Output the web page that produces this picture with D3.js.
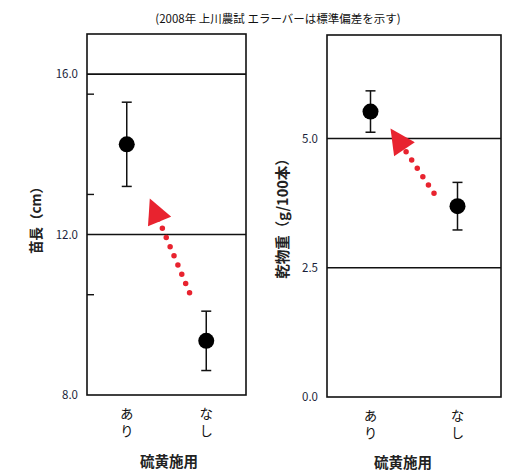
<!DOCTYPE html>
<html>
<head>
<meta charset="utf-8">
<script src="https://cdn.jsdelivr.net/npm/d3@7"></script>
<style>
  html, body { margin: 0; padding: 0; background: #fff; }
  svg text { font-family: "Noto Sans CJK JP", "Noto Sans", sans-serif; }
</style>
</head>
<body>
<svg id="chart" width="523" height="472"></svg>
<script>
// 硫黄施用の有無 (x categories)
const categories = ["あり", "なし"];

// 苗長 (cm): mean and standard deviation
const lengthMean = [14.25, 9.35];
const lengthSD = [1.05, 0.74];
const lengthTicks = [8.0, 12.0, 16.0];
const lengthMinorTicks = [10.5, 13.0, 15.5];

// 乾物重 (g/100本): mean and standard deviation
const weightMean = [5.52, 3.69];
const weightSD = [0.40, 0.46];
const weightTicks = [0.0, 2.5, 5.0];

// red dotted arrows: [x index, value] start -> tip
const lengthArrow = [[0.79, 10.55], [0.29, 12.9]];
const weightArrow = [[0.73, 3.94], [0.23, 5.19]];

const RED = "#e8232f";
const svg = d3.select("#chart");

svg.append("defs").append("marker")
  .attr("id", "head")
  .attr("viewBox", "0 0 10 10")
  .attr("refX", 10).attr("refY", 5)
  .attr("markerWidth", 27).attr("markerHeight", 25)
  .attr("markerUnits", "userSpaceOnUse")
  .attr("orient", "auto")
  .append("path")
  .attr("d", "M0,0 L10,5 L0,10 Z")
  .attr("fill", RED);

svg.append("text")
  .attr("x", 278).attr("y", 23)
  .attr("text-anchor", "middle")
  .attr("font-size", 11.5)
  .attr("fill", "#111")
  .text("(2008年  上川農試  エラーバーは標準偏差を示す)");

function panel(cfg) {
  const g = svg.append("g");
  const x = d3.scaleLinear().domain([-0.5, 1.5]).range([cfg.left, cfg.right]);
  const y = d3.scaleLinear().domain(cfg.domain).range([cfg.bottom, cfg.top]);

  // frame
  g.append("rect")
    .attr("x", cfg.left).attr("y", cfg.top)
    .attr("width", cfg.right - cfg.left).attr("height", cfg.bottom - cfg.top)
    .attr("fill", "none").attr("stroke", "#111").attr("stroke-width", 1.6);

  // horizontal reference lines
  g.selectAll("line.grid")
    .data(cfg.ticks.filter(t => t > cfg.domain[0]))
    .join("line")
    .attr("class", "grid")
    .attr("x1", cfg.left).attr("x2", cfg.right)
    .attr("y1", d => y(d)).attr("y2", d => y(d))
    .attr("stroke", "#111").attr("stroke-width", 1.6);

  // y axis labels
  const yAxis = d3.axisLeft(y)
    .tickValues(cfg.ticks)
    .tickFormat(d3.format(".1f"))
    .tickSize(0).tickPadding(9);
  const ya = g.append("g").attr("transform", `translate(${cfg.left},0)`).call(yAxis);
  ya.select(".domain").remove();
  ya.selectAll("text").attr("font-size", 11.5).attr("fill", "#1b1f3a")
    .attr("font-family", "'Liberation Sans', Arial, sans-serif");

  // minor inward ticks
  if (cfg.minor) {
    g.selectAll("line.minor")
      .data(cfg.minor)
      .join("line")
      .attr("x1", cfg.left).attr("x2", cfg.left + 7)
      .attr("y1", d => y(d)).attr("y2", d => y(d))
      .attr("stroke", "#111").attr("stroke-width", 1.4);
  }

  // x category labels, written vertically
  g.selectAll("text.cat")
    .data(categories)
    .join("text")
    .attr("class", "cat")
    .attr("x", (d, i) => x(i)).attr("y", cfg.bottom + 12)
    .attr("writing-mode", "vertical-rl")
    .attr("text-anchor", "start")
    .attr("letter-spacing", 4)
    .attr("font-size", 13.5).attr("fill", "#111")
    .text(d => d);

  // x axis title
  g.append("text")
    .attr("x", cfg.xTitleX).attr("y", cfg.xTitleY)
    .attr("text-anchor", "middle")
    .attr("font-size", 14.5).attr("font-weight", "bold").attr("fill", "#222")
    .text("硫黄施用");

  // y axis title
  g.append("text")
    .attr("transform", `translate(${cfg.titleX},${cfg.titleY}) rotate(-90)`)
    .attr("text-anchor", "middle")
    .attr("dominant-baseline", "central")
    .attr("font-size", cfg.titleSize).attr("font-weight", "bold").attr("fill", "#222")
    .text(cfg.title);

  // error bars
  const eb = g.selectAll("g.eb")
    .data(cfg.mean.map((m, i) => ({ i, m, s: cfg.sd[i] })))
    .join("g");
  eb.append("line")
    .attr("x1", d => x(d.i)).attr("x2", d => x(d.i))
    .attr("y1", d => y(d.m + d.s)).attr("y2", d => y(d.m - d.s))
    .attr("stroke", "#111").attr("stroke-width", 1.5);
  [1, -1].forEach(sgn => {
    eb.append("line")
      .attr("x1", d => x(d.i) - 5).attr("x2", d => x(d.i) + 5)
      .attr("y1", d => y(d.m + sgn * d.s)).attr("y2", d => y(d.m + sgn * d.s))
      .attr("stroke", "#111").attr("stroke-width", 1.5);
  });
  eb.append("circle")
    .attr("cx", d => x(d.i)).attr("cy", d => y(d.m))
    .attr("r", 8).attr("fill", "#000");

  // dotted arrow: dots stop short of the tip, head carried by a bare line
  const p0 = [x(cfg.arrow[0][0]), y(cfg.arrow[0][1])];
  const p1 = [x(cfg.arrow[1][0]), y(cfg.arrow[1][1])];
  const len = Math.hypot(p1[0] - p0[0], p1[1] - p0[1]);
  const stop = d3.interpolateArray(p0, p1)(Math.max(0, (len - 22) / len));
  g.append("line")
    .attr("x1", p0[0]).attr("y1", p0[1])
    .attr("x2", stop[0]).attr("y2", stop[1])
    .attr("stroke", RED).attr("stroke-width", 5.5)
    .attr("stroke-linecap", "round")
    .attr("stroke-dasharray", "0,10");
  g.append("line")
    .attr("x1", p0[0]).attr("y1", p0[1])
    .attr("x2", p1[0]).attr("y2", p1[1])
    .attr("stroke", "none")
    .attr("marker-end", "url(#head)");
}

panel({
  left: 87, right: 246, top: 34, bottom: 395,
  domain: [8, 17], ticks: lengthTicks, minor: lengthMinorTicks,
  mean: lengthMean, sd: lengthSD, arrow: lengthArrow,
  title: "苗長（cm）", titleX: 35, titleY: 217, titleSize: 13.5,
  xTitleX: 169, xTitleY: 467
});

panel({
  left: 327, right: 501, top: 35, bottom: 397,
  domain: [0, 7], ticks: weightTicks, minor: null,
  mean: weightMean, sd: weightSD, arrow: weightArrow,
  title: "乾物重（g/100本）", titleX: 281, titleY: 215, titleSize: 14.5,
  xTitleX: 403, xTitleY: 468
});
</script>
</body>
</html>
